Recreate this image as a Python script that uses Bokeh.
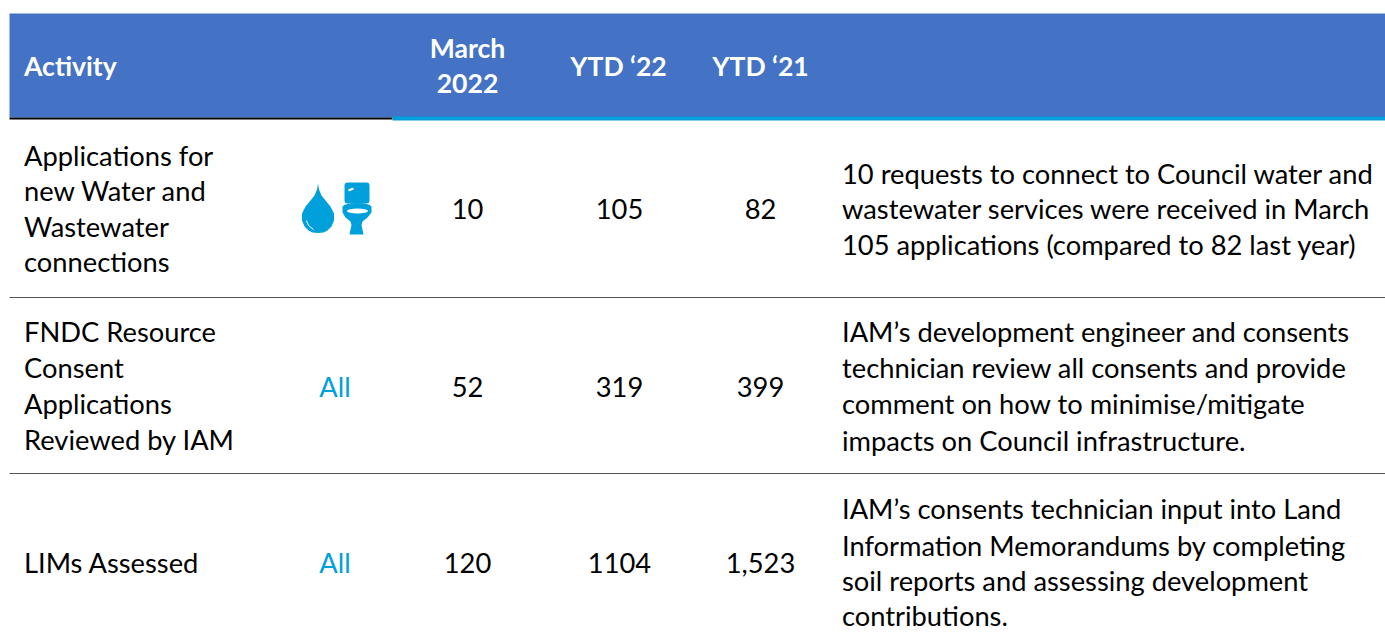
from bokeh.plotting import figure
from bokeh.models import Range1d
from bokeh.core.properties import value
from bokeh.embed import file_html
from bokeh.resources import INLINE

FONT = "Lato"
BLUE = "#4472C4"
CYAN = "#00A0DC"

header_labels = ["Activity", "March", "2022", "YTD ‘22", "YTD ‘21"]
activity_lines = [
    ["Applications for", "new Water and", "Wastewater", "connections"],
    ["FNDC Resource", "Consent", "Applications", "Reviewed by IAM"],
    ["LIMs Assessed"],
]
scope = ["", "All", "All"]
march_2022 = ["10", "52", "120"]
ytd_22 = ["105", "319", "1104"]
ytd_21 = ["82", "399", "1,523"]
note_lines = [
    ["10 requests to connect to Council water and", "wastewater services were received in March", "105 applications (compared to 82 last year)"],
    ["IAM’s development engineer and consents", "technician review all consents and provide", "comment on how to minimise/mitigate", "impacts on Council infrastructure."],
    ["IAM’s consents technician input into Land", "Information Memorandums by completing", "soil reports and assessing development", "contributions."],
]

W, H = 1385, 643
p = figure(width=W, height=H, output_backend="svg", toolbar_location=None,
           x_range=Range1d(0, W), y_range=Range1d(H, 0),
           min_border=0, outline_line_color=None, background_fill_color="white",
           border_fill_color="white")
p.axis.visible = False
p.grid.visible = False

p.quad(left=[9], right=[1385], top=[13], bottom=[117], fill_color=BLUE, line_color=None)
p.quad(left=[9], right=[392], top=[117], bottom=[119], fill_color="black", line_color=None)
p.quad(left=[392], right=[1385], top=[116], bottom=[120], fill_color=CYAN, line_color=None)
p.quad(left=[9, 9], right=[1385, 1385], top=[296.5, 472.5], bottom=[297.5, 473.5],
       fill_color="#555555", line_color=None)


def txt(xs, ys, labels, color="black", align="left", bold=False, size="27.3px"):
    p.text(x=xs, y=ys, text=labels, text_color=color, text_align=align,
           text_baseline="middle", text_font=value(FONT), text_font_size=size,
           text_font_style="bold" if bold else "normal")


txt([23.5], [65], [header_labels[0]], "white", bold=True, size="26.6px")
txt([467, 467, 618, 760], [47, 83, 65, 65], header_labels[1:], "white", "center", True, size="26.6px")

act_y = [[155, 190, 226, 261], [331, 367, 403, 439], [562]]
for lines, ys in zip(activity_lines, act_y):
    txt([23.5] * len(lines), ys, lines)

row_y = [208, 386, 562]
txt([334.5, 334.5], row_y[1:], scope[1:], CYAN, "center")
txt([467] * 3, row_y, march_2022, align="center")
txt([619] * 3, row_y, ytd_22, align="center")
txt([760] * 3, row_y, ytd_21, align="center")

note_y = [[173, 208, 244], [331, 367, 403, 440], [508, 545, 580, 615]]
for lines, ys in zip(note_lines, note_y):
    txt([841.5] * len(lines), ys, lines)

# water drop icon
drop_x = [317.5, 316.5, 314, 310, 305, 301.5, 301.5, 304, 308, 312, 317.5, 323, 327, 331, 333.5, 333.5, 330, 325, 321, 318.5]
drop_y = [183, 189, 195, 200, 206, 213, 220, 226, 230, 232, 232.5, 232, 230, 226, 220, 213, 206, 200, 195, 189]
p.patch(drop_x, drop_y, fill_color=CYAN, line_color=None)
p.line([306, 308, 313], [220, 225, 229], line_color="white", line_width=1)

# toilet icon: tank, bowl, foot
p.quad(left=[344], right=[369], top=[182], bottom=[203], fill_color=CYAN, line_color=None, border_radius=3)
p.line([348, 353], [190, 188], line_color="white", line_width=2)
bowl_x = [342, 342, 345, 350, 351, 350, 349, 363, 362, 361, 362, 367, 371, 371]
bowl_y = [207, 212, 217, 221, 225, 229, 234, 234, 229, 225, 221, 217, 212, 207]
p.patch(bowl_x, bowl_y, fill_color=CYAN, line_color=None)
p.ellipse(x=[356.5], y=[206.5], width=[29], height=[8], fill_color=CYAN, line_color=None)
p.ellipse(x=[357], y=[210.5], width=[21], height=[5], fill_color="white", line_color=None)

open("out.html", "w").write(file_html(p, INLINE))
